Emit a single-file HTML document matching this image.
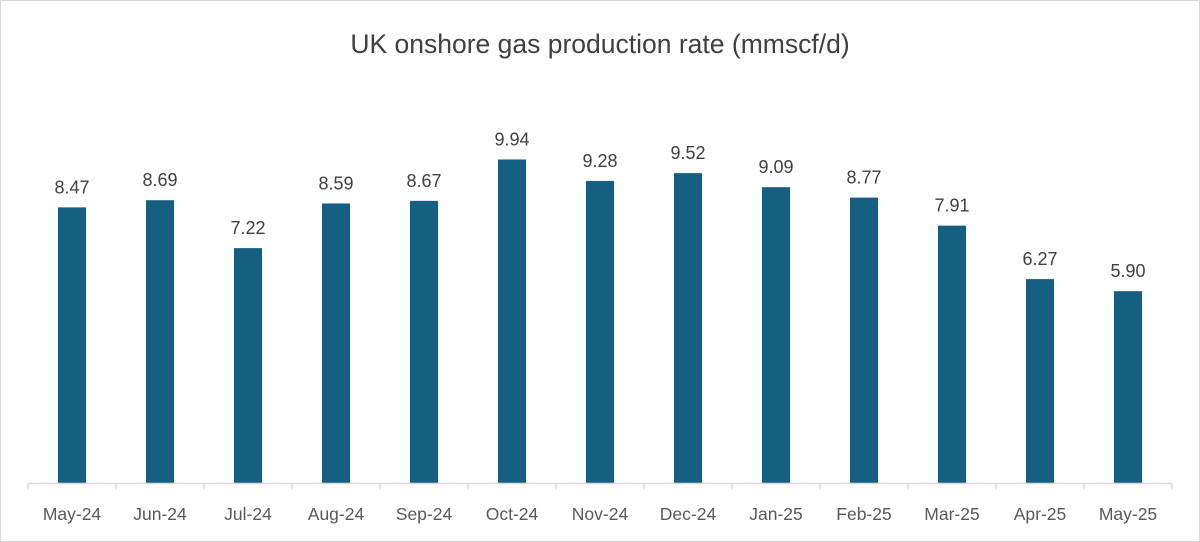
<!DOCTYPE html>
<html><head><meta charset="utf-8"><style>
body{margin:0;background:#fff}
svg{display:block;font-family:"Liberation Sans",sans-serif}
</style></head><body>
<svg id="c" width="1200" height="542">
<rect x="0.5" y="0.5" width="1199" height="541" fill="#fff" stroke="#d9d9d9"/>
<text x="600" y="53" text-anchor="middle" font-size="26.5" fill="#404040">UK onshore gas production rate (mmscf/d)</text>
</svg>
<script>
const categories=["May-24","Jun-24","Jul-24","Aug-24","Sep-24","Oct-24","Nov-24","Dec-24","Jan-25","Feb-25","Mar-25","Apr-25","May-25"];
const values=[8.47,8.69,7.22,8.59,8.67,9.94,9.28,9.52,9.09,8.77,7.91,6.27,5.90];
const labels=["8.47","8.69","7.22","8.59","8.67","9.94","9.28","9.52","9.09","8.77","7.91","6.27","5.90"];
const svg=document.getElementById('c');const NS='http://www.w3.org/2000/svg';
const x0=28,step=88,base=483.5,k=32.6,bw=28;
const xs=i=>x0+step*i+step/2, ys=v=>base-v*k;
function mk(t,a){const e=document.createElementNS(NS,t);for(const n in a)e.setAttribute(n,a[n]);svg.appendChild(e);return e;}
values.forEach((v,i)=>{
 const r=mk('rect',{x:xs(i)-bw/2,y:ys(v),width:bw,height:base-ys(v),fill:'#156082'});
 
 
 const t=mk('text',{x:xs(i),y:ys(v)-14,'text-anchor':'middle','font-size':'18',fill:'#404040'});t.textContent=labels[i];
 
 
 const c=mk('text',{x:xs(i),y:520,'text-anchor':'middle','font-size':'17.5',fill:'#595959'});c.textContent=categories[i];
 
 
});
const ax=mk('line',{x1:x0,x2:x0+step*categories.length,y1:base,y2:base,stroke:'#d9d9d9','stroke-width':1.5});


for(let i=0;i<=categories.length;i++){
 const t=mk('line',{x1:x0+step*i,x2:x0+step*i,y1:base,y2:base+6,stroke:'#d9d9d9','stroke-width':1.5});
 
 
}
</script>
</body></html>
